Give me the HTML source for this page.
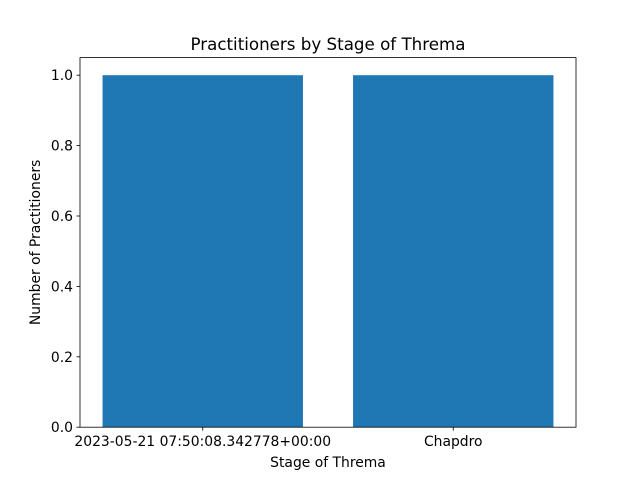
<!DOCTYPE html>
<html><head><meta charset="utf-8"><style>
body{margin:0;background:#fff;}
text{font-family:"DejaVu Sans","Liberation Sans",sans-serif;}
</style></head><body>
<svg id="chart" width="640" height="480" xmlns="http://www.w3.org/2000/svg">
<rect width="640" height="480" fill="#fff"/>
<text x="328" y="50" text-anchor="middle" font-size="16.7" fill="#000">Practitioners by Stage of Threma</text>
<g id="bars"></g>
<g id="axes"></g>
<text x="328" y="467" text-anchor="middle" font-size="13.9">Stage of Threma</text>
<text transform="translate(40,242.4) rotate(-90)" text-anchor="middle" font-size="13.9">Number of Practitioners</text>
</svg>
<script>
const categories = ["2023-05-21 07:50:08.342778+00:00", "Chapdro"];
const values = [1, 1];
const yTicks = [0.0, 0.2, 0.4, 0.6, 0.8, 1.0];
const yTickLabels = ["0.0", "0.2", "0.4", "0.6", "0.8", "1.0"];

const L=80,R=576,T=57.6,B=427.2;
const ns="http://www.w3.org/2000/svg";
const yMax=Math.max(...values)*1.05;
const y=v=>B-(v/yMax)*(B-T);
const n=categories.length;
const x0=-0.4-0.05*(n-0.2), x1=(n-1)+0.4+0.05*(n-0.2);
const x=d=>L+(d-x0)/(x1-x0)*(R-L);
const bw=0.8*(R-L)/(x1-x0);
const bars=document.getElementById('bars'), axes=document.getElementById('axes');
function mk(tag,attrs,parent){const e=document.createElementNS(ns,tag);for(const k in attrs)e.setAttribute(k,attrs[k]);parent.appendChild(e);return e;}
values.forEach((v,i)=>{
  const r=mk('rect',{x:x(i)-bw/2,y:y(v),width:bw,height:B-y(v),fill:'#1f77b4'},bars);
  
  
  const t=mk('line',{x1:x(i),x2:x(i),y1:B,y2:B+3.5,stroke:'#000','stroke-width':0.8},axes);
  
  
  const lb=mk('text',{x:x(i),y:B+19,'text-anchor':'middle','font-size':13.9},axes);
  lb.textContent=categories[i];
  
  
});
yTicks.forEach((v,i)=>{
  const t=mk('line',{x1:L-3.5,x2:L,y1:y(v),y2:y(v),stroke:'#000','stroke-width':0.8},axes);
  
  
  const lb=mk('text',{x:L-7,y:y(v)+5,'text-anchor':'end','font-size':13.9},axes);
  lb.textContent=yTickLabels[i];
  
  
});
const f=mk('rect',{x:L,y:T,width:R-L,height:B-T,fill:'none',stroke:'#000','stroke-width':0.8},axes);


</script>
</body></html>
